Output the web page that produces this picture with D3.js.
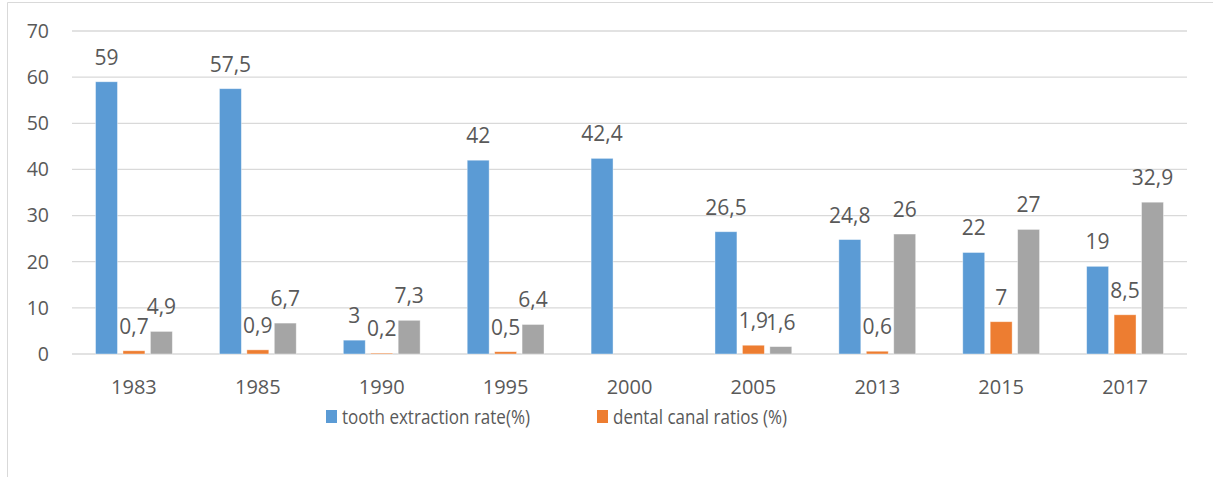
<!DOCTYPE html>
<html>
<head>
<meta charset="utf-8">
<script src="https://cdn.jsdelivr.net/npm/d3@7"></script>
<style>
  body { margin: 0; background: #fff; }
  svg text { font-family: "Open Sans", "Noto Sans", sans-serif; fill: #595959; }
</style>
</head>
<body>
<div id="chart"></div>
<script>
const years = ["1983", "1985", "1990", "1995", "2000", "2005", "2013", "2015", "2017"];
const extraction = [59, 57.5, 3, 42, 42.4, 26.5, 24.8, 22, 19];
const canal = [0.7, 0.9, 0.2, 0.5, null, 1.9, 0.6, 7, 8.5];
const third = [4.9, 6.7, 7.3, 6.4, null, 1.6, 26, 27, 32.9];
const yTicks = [0, 10, 20, 30, 40, 50, 60, 70];
const legendNames = ["tooth extraction rate(%)", "dental canal ratios (%)"];

const W = 1213, H = 477;
const margin = { top: 31, right: 26, bottom: 123, left: 72 };

const series = [
  { key: "extraction", values: extraction, color: "#5b9bd5" },
  { key: "canal", values: canal, color: "#ed7d31" },
  { key: "third", values: third, color: "#a5a5a5" },
];

const svg = d3.select("#chart").append("svg").attr("width", W).attr("height", H);

// outer frame (top and left edges visible)
svg.append("path")
  .attr("d", `M7.5,${H} V2.5 H${W}`)
  .attr("fill", "none")
  .attr("stroke", "#d9d9d9")
  .attr("stroke-width", 1);

const x = d3.scaleBand()
  .domain(years)
  .range([margin.left, W - margin.right])
  .paddingInner(0.38)
  .paddingOuter(0.19);

const xSub = d3.scaleBand()
  .domain(series.map((s) => s.key))
  .range([0, x.bandwidth()])
  .paddingInner(0.2);

const y = d3.scaleLinear().domain([0, 70]).range([H - margin.bottom, margin.top]);

// gridlines
svg.append("g")
  .selectAll("line")
  .data(yTicks)
  .join("line")
  .attr("x1", margin.left)
  .attr("x2", W - margin.right)
  .attr("y1", (d) => y(d))
  .attr("y2", (d) => y(d))
  .attr("stroke", "#d9d9d9")
  .attr("stroke-width", (d) => (d === 0 ? 1.5 : 1.3));

// y axis labels
svg.append("g")
  .selectAll("text")
  .data(yTicks)
  .join("text")
  .attr("x", 49)
  .attr("y", (d) => y(d))
  .attr("dy", "0.35em")
  .attr("text-anchor", "end")
  .style("font-size", "19.5px")
  .text((d) => d);

// x axis labels
svg.append("g")
  .selectAll("text")
  .data(years)
  .join("text")
  .attr("x", (d) => x(d) + x.bandwidth() / 2)
  .attr("y", y(0) + 40)
  .attr("text-anchor", "middle")
  .style("font-size", "20px")
  .text((d) => d);

const fmt = (v) => String(v).replace(".", ",");

series.forEach((s) => {
  const pts = years.map((yr, i) => ({ yr, v: s.values[i] })).filter((d) => d.v != null);
  const g = svg.append("g");
  g.selectAll("rect")
    .data(pts)
    .join("rect")
    .attr("x", (d) => x(d.yr) + xSub(s.key))
    .attr("y", (d) => y(d.v))
    .attr("width", xSub.bandwidth())
    .attr("height", (d) => y(0) - y(d.v))
    .attr("fill", s.color)
    .attr("stroke", "#fff")
    .attr("stroke-opacity", 0.5)
    .attr("stroke-width", 0.8);
  g.selectAll("text")
    .data(pts)
    .join("text")
    .attr("x", (d) => x(d.yr) + xSub(s.key) + xSub.bandwidth() / 2)
    .attr("y", (d) => y(d.v) - 17)
    .attr("text-anchor", "middle")
    .style("font-size", "21px")
    .text((d) => fmt(d.v));
});

// legend
const legendX = [326, 597];
const legendW = [188, 174];
const legend = svg.append("g");
legendNames.forEach((name, i) => {
  legend.append("rect")
    .attr("x", legendX[i])
    .attr("y", 410)
    .attr("width", 11)
    .attr("height", 13)
    .attr("fill", series[i].color);
  legend.append("text")
    .attr("x", legendX[i] + 16)
    .attr("y", 417)
    .attr("dy", "0.35em")
    .attr("textLength", legendW[i])
    .attr("lengthAdjust", "spacingAndGlyphs")
    .style("font-size", "20px")
    .text(name);
});
</script>
</body>
</html>
